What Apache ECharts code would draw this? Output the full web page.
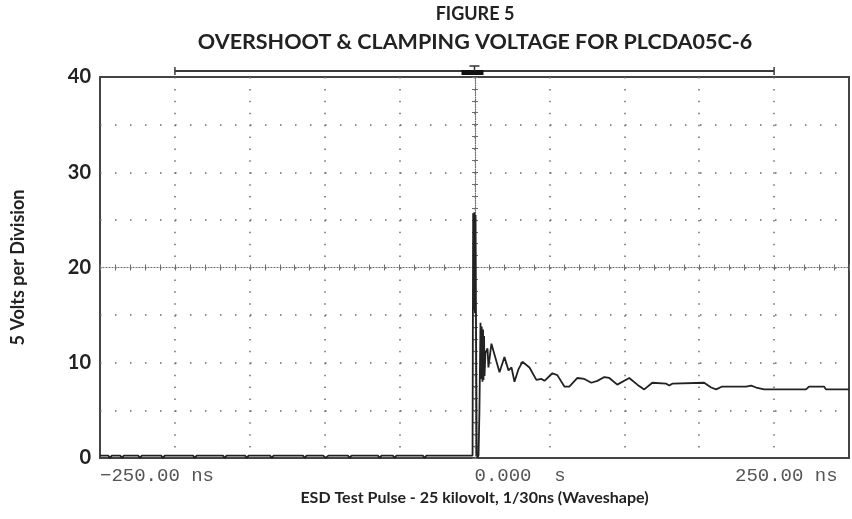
<!DOCTYPE html>
<html><head><meta charset="utf-8">
<script src="https://cdn.jsdelivr.net/npm/echarts@6/dist/echarts.min.js"></script>
<style>html,body{margin:0;padding:0;background:#fff}#c{width:852px;height:519px}</style>
</head><body><div id="c"></div>
<script>
const titleLines = ['FIGURE 5', 'OVERSHOOT & CLAMPING VOLTAGE FOR PLCDA05C-6'];
const xAxisTitle = 'ESD Test Pulse - 25 kilovolt, 1/30ns (Waveshape)';
const yAxisTitle = '5 Volts per Division';
const yTickLabels = [0, 10, 20, 30, 40];
const xLabelValues = [-250, 0, 250];
const xLabelTexts = ['\u2212250.00 ns', '0.000  s', '250.00 ns '];
const bracketNs = [-200, 200];
const triggerNs = 0;

// pre-trigger baseline (ns, V)
const baseTimeNs = [-250,
  -244.5, -243.3, -242.1, -236.5, -235.3, -234.1, -224.5, -223.3, -222.1,
  -209.2, -208, -206.8, -187.9, -186.7, -185.5, -167.9, -166.7, -165.5,
  -153.2, -152, -150.8, -136.5, -135.3, -134.1, -114.5, -113.3, -112.1,
  -101, -99.3, -97.6, -84.5, -83.3, -82.1, -64.5, -63.3, -62.1,
  -54.5, -53.3, -52.1, -34.5, -33.3, -32.1];
const baseVolts = [0.25,
  0.25, 0.02, 0.25, 0.25, 0.02, 0.25, 0.25, 0.02, 0.25,
  0.25, 0.02, 0.25, 0.25, 0.02, 0.25, 0.25, 0.02, 0.25,
  0.25, 0.02, 0.25, 0.25, 0.02, 0.25, 0.25, 0.02, 0.25,
  0.25, 0.02, 0.25, 0.25, 0.02, 0.25, 0.25, 0.02, 0.25,
  0.25, 0.02, 0.25, 0.25, 0.02, 0.25];
// pulse response (ns, V)
const pulseTimeNs = [-1.3, -0.9, -0.5, -0.1, 0.3, 0.7, 1.0, 1.5, 2.0, 2.7, 3.3, 4.0, 4.4, 4.8, 5.3, 5.7, 6.0, 6.4, 6.7, 7.3,
  8.7, 9.3, 11.3, 14, 16.7, 20, 22.7, 24.7, 26.7, 29.3, 32, 36.7, 41.3, 44.7, 46.7,
  52, 55.3, 60, 63.3, 68.7, 73.3, 78, 82, 86.7, 90, 95.3, 103.3, 108.7, 113.3, 118.7,
  128, 130, 132, 153.3, 158, 161.3, 165.3, 181.3, 184.7, 188, 193.3, 221.3, 223.3,
  233.3, 234.7, 250];
const pulseVolts = [0.25, 25.7, 15.5, 25.8, 15.2, 25.5, 15, 0.5, 0, 0.3, 5, 14.2, 8.3, 13.8, 8.0, 13.5, 8.2, 12.8, 8.6, 11.0,
  11.5, 9.5, 12.0, 10.5, 9.0, 10.6, 9.2, 9.5, 8.0, 9.3, 10.1, 9.5, 8.2, 8.3, 8.1,
  8.9, 8.7, 7.5, 7.5, 8.4, 8.3, 7.9, 8.1, 8.5, 8.4, 7.7, 8.4, 7.7, 7.2, 7.9,
  7.8, 7.6, 7.8, 7.9, 7.4, 7.2, 7.5, 7.5, 7.6, 7.4, 7.2, 7.2, 7.5,
  7.5, 7.2, 7.2];

const timeNs = baseTimeNs.concat(pulseTimeNs);
const volts = baseVolts.concat(pulseVolts);

const chart = echarts.init(document.getElementById('c'), null, {renderer: 'canvas'});
const dotColor = '#6c6c6c';
const boldText = {fontFamily: 'Lato', fontWeight: 'bold', color: '#222'};
const plotW = 750, plotH = 381;

const option = {
  animation: false,
  backgroundColor: '#fff',
  title: {
    text: '{a|' + titleLines[0] + '}\n{b|' + titleLines[1] + '}', left: 475, top: 0, padding: 0, textAlign: 'center',
    textStyle: {
      rich: {
        a: Object.assign({fontSize: 18, lineHeight: 28, align: 'center'}, boldText),
        b: Object.assign({fontSize: 21.5, lineHeight: 28, align: 'center'}, boldText)
      }
    }
  },
  grid: {left: 100, right: 2, top: 77, bottom: 61, show: true, borderColor: '#444', borderWidth: 2},
  xAxis: [
    {
      type: 'value', min: -250, max: 250, interval: 50,
      axisLine: {show: false}, axisTick: {show: false},
      splitLine: {show: true, showMinLine: false, showMaxLine: false,
        lineStyle: {type: [1.5, plotH / 32 - 1.5], color: dotColor, width: 1.5}},
      axisLabel: {
        show: true, margin: 8, fontFamily: 'Liberation Mono', fontSize: 19, color: '#555',
        align: 'left', alignMaxLabel: 'right', showMinLabel: true, showMaxLabel: true,
        formatter: v => { const i = xLabelValues.indexOf(v); return i < 0 ? '' : xLabelTexts[i]; }
      },
      name: xAxisTitle, nameLocation: 'middle', nameGap: 32,
      nameTextStyle: Object.assign({fontSize: 16}, boldText)
    },
    {
      type: 'value', min: -250, max: 250, interval: 10, position: 'bottom', offset: -plotH / 2,
      axisLine: {show: true, lineStyle: {type: [1, 2], color: dotColor, width: 1.2}},
      axisTick: {show: true, inside: false, length: 3, lineStyle: {color: dotColor}},
      axisLabel: {show: false}, splitLine: {show: false}
    },
    {
      type: 'value', min: -250, max: 250, interval: 10, position: 'bottom', offset: -plotH / 2,
      axisLine: {show: false},
      axisTick: {show: true, inside: true, length: 3, lineStyle: {color: dotColor}},
      axisLabel: {show: false}, splitLine: {show: false}
    }
  ],
  yAxis: [
    {
      type: 'value', min: 0, max: 40, interval: 5,
      axisLine: {show: false}, axisTick: {show: false},
      splitLine: {show: true, showMinLine: false, showMaxLine: false,
        lineStyle: {type: [1.5, plotW / 50 - 1.5], color: dotColor, width: 1.5}},
      axisLabel: {
        show: true, margin: 9, fontSize: 20, fontFamily: 'Lato', fontWeight: 'bold', color: '#222',
        formatter: v => yTickLabels.indexOf(v) >= 0 ? String(v) : ''
      },
      name: yAxisTitle, nameLocation: 'middle', nameGap: 73,
      nameTextStyle: Object.assign({fontSize: 18}, boldText)
    },
    {
      type: 'value', min: 0, max: 40, interval: 1.25, position: 'left', offset: -plotW / 2,
      axisLine: {show: true, lineStyle: {type: [1, 1.4], color: dotColor, width: 1.2}},
      axisTick: {show: true, inside: false, length: 3, lineStyle: {color: dotColor}},
      axisLabel: {show: false}, splitLine: {show: false}
    },
    {
      type: 'value', min: 0, max: 40, interval: 1.25, position: 'left', offset: -plotW / 2,
      axisLine: {show: false},
      axisTick: {show: true, inside: true, length: 3, lineStyle: {color: dotColor}},
      axisLabel: {show: false}, splitLine: {show: false}
    }
  ],
  series: [{
    type: 'line', xAxisIndex: 0, yAxisIndex: 0, symbol: 'none', z: 5,
    lineStyle: {color: '#222', width: 1.8},
    data: timeNs.map((t, i) => [t, volts[i]])
  }]
};
chart.setOption(option);

const pL = chart.convertToPixel({xAxisIndex: 0, yAxisIndex: 0}, [bracketNs[0], 40]);
const pR = chart.convertToPixel({xAxisIndex: 0, yAxisIndex: 0}, [bracketNs[1], 40]);
const pT = chart.convertToPixel({xAxisIndex: 0, yAxisIndex: 0}, [triggerNs, 40]);
const by = pL[1] - 6;
const st = {stroke: '#3a3a3a', lineWidth: 2};
chart.setOption({
  graphic: [
    {type: 'line', shape: {x1: pL[0], y1: by, x2: pR[0], y2: by}, style: st},
    {type: 'line', shape: {x1: pL[0], y1: by - 4, x2: pL[0], y2: by + 4}, style: {stroke: '#3a3a3a', lineWidth: 1.5}},
    {type: 'line', shape: {x1: pR[0], y1: by - 4, x2: pR[0], y2: by + 4}, style: {stroke: '#3a3a3a', lineWidth: 1.5}},
    {type: 'rect', shape: {x: pT[0] - 13, y: by - 1, width: 22, height: 5}, style: {fill: '#111'}},
    {type: 'line', shape: {x1: pT[0], y1: by - 5, x2: pT[0], y2: by}, style: {stroke: '#333', lineWidth: 1.5}},
    {type: 'line', shape: {x1: pT[0] - 5, y1: by - 5, x2: pT[0] + 5, y2: by - 5}, style: {stroke: '#333', lineWidth: 1.5}}
  ]
});
</script>
</body></html>
